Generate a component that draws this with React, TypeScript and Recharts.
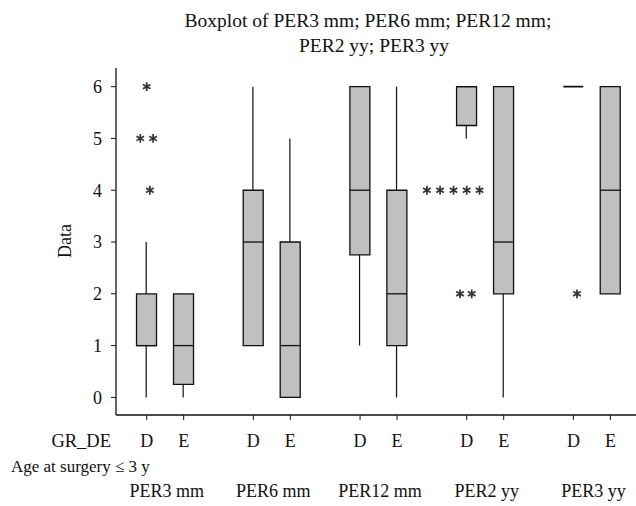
import React from 'react'
import { ComposedChart, Bar, Scatter, XAxis, YAxis } from 'recharts'

const categories = ['PER3 mm', 'PER6 mm', 'PER12 mm', 'PER2 yy', 'PER3 yy']
const groupLevels = ['D', 'E']
const xPositions = [1, 2.04, 4, 5.04, 7, 8.04, 10, 11.04, 13, 14.04]
const q1 = [1, 0.25, 1, 0, 2.75, 1, 5.25, 2, 6, 2]
const medians = [1, 1, 3, 1, 4, 2, 6, 3, 6, 4]
const q3 = [2, 2, 4, 3, 6, 4, 6, 6, 6, 6]
const whiskerLow = [0, 0, 1, 0, 1, 0, 5, 0, 6, 2]
const whiskerHigh = [3, 2, 6, 5, 6, 6, 6, 6, 6, 6]
const yTicks = [0, 1, 2, 3, 4, 5, 6]
const outlierX = [1, 0.82, 1.18, 1.09, 8.88, 9.25, 9.63, 10, 10.36, 9.81, 10.14, 13.1]
const outlierY = [6, 5, 5, 4, 4, 4, 4, 4, 4, 2, 2, 2]

const FONT = "'Liberation Serif', 'Times New Roman', serif"
const X_DOMAIN: [number, number] = [0.137, 15.013]
const Y_DOMAIN: [number, number] = [-0.34, 6.36]
const BOX_W = 20

const boxData = xPositions.map((x, i) => ({
  x,
  box: [q1[i], q3[i]],
  whisker: [whiskerLow[i], whiskerHigh[i]],
  q1: q1[i],
  q3: q3[i],
  median: medians[i],
}))

const outliers = outlierX.map((x, i) => ({ x, y: outlierY[i] }))

// box drawn around the centre recharts gives us; median interpolated inside the q1..q3 span
const BoxShape = (props: any) => {
  const { x, y, width, height, payload } = props
  if (x == null || y == null) return null
  const cx = x + width / 2
  const left = cx - BOX_W / 2
  const span = payload.q3 - payload.q1
  const my = span > 0 ? y + (height * (payload.q3 - payload.median)) / span : y
  return (
    <g>
      <path
        d={`M${left},${y}h${BOX_W}v${height}h${-BOX_W}Z`}
        fill="#c0c0c0"
        stroke="#111"
        strokeWidth={span > 0 ? 1.3 : 1.8}
      />
      {span > 0 && (
        <line x1={left} x2={left + BOX_W} y1={my} y2={my} stroke="#111" strokeWidth={1.3} />
      )}
    </g>
  )
}

const WhiskerShape = (props: any) => {
  const { x, y, width, height } = props
  if (x == null || y == null) return null
  const cx = x + width / 2
  return <line x1={cx} x2={cx} y1={y} y2={y + height} stroke="#111" strokeWidth={1.2} />
}

const Asterisk = (props: any) => {
  const { cx, cy } = props
  const r = 4.4
  const dx = r * Math.cos(Math.PI / 6)
  const dy = r * Math.sin(Math.PI / 6)
  return (
    <path
      d={`M${cx},${cy - r}L${cx},${cy + r}M${cx - dx},${cy - dy}L${cx + dx},${cy + dy}M${cx - dx},${cy + dy}L${cx + dx},${cy - dy}`}
      stroke="#333"
      strokeWidth={1.7}
      fill="none"
    />
  )
}

const GroupTick = (props: any) => {
  const { x, y, payload } = props
  const i = xPositions.findIndex(p => Math.abs(p - payload.value) < 1e-6)
  if (i < 0) return null
  return (
    <g fontFamily={FONT} fontSize={18} fill="#111">
      <text x={x} y={y + 27} textAnchor="middle">{groupLevels[i % 2]}</text>
      {i % 2 === 0 && (
        <text x={x + 20} y={y + 77} textAnchor="middle">{categories[i / 2]}</text>
      )}
    </g>
  )
}

export default function App() {
  return (
    <div style={{ position: 'absolute', left: 0, top: 0, width: 636, height: 506, overflow: 'hidden', background: '#fff' }}>
      <ComposedChart
        width={680}
        height={506}
        data={boxData}
        margin={{ top: 68, right: 35, bottom: 0, left: 66 }}
      >
        <XAxis
          xAxisId="main"
          dataKey="x"
          type="number"
          domain={X_DOMAIN}
          allowDataOverflow
          ticks={xPositions}
          interval={0}
          height={91}
          tickSize={5}
          tickMargin={0}
          tick={<GroupTick />}
          axisLine={{ stroke: '#111', strokeWidth: 1.3 }}
          tickLine={{ stroke: '#111' }}
        />
        <XAxis
          xAxisId="w"
          dataKey="x"
          type="number"
          orientation="top"
          domain={X_DOMAIN}
          allowDataOverflow
          ticks={xPositions}
          height={0}
          tick={false}
          tickLine={false}
          axisLine={{ stroke: '#111', strokeWidth: 1.3 }}
        />
        <YAxis
          type="number"
          domain={Y_DOMAIN}
          allowDataOverflow
          ticks={yTicks}
          interval={0}
          width={50}
          tickSize={5}
          tickMargin={9}
          tick={{ fill: '#111', fontSize: 18, fontFamily: FONT }}
          axisLine={{ stroke: '#111', strokeWidth: 1.3 }}
          tickLine={{ stroke: '#111' }}
        />
        <Bar xAxisId="w" dataKey="whisker" barSize={20} shape={<WhiskerShape />} isAnimationActive={false} />
        <Bar xAxisId="main" dataKey="box" barSize={20} shape={<BoxShape />} isAnimationActive={false} />
        <Scatter xAxisId="main" data={outliers} dataKey="y" shape={<Asterisk />} isAnimationActive={false} />
      </ComposedChart>
      <svg
        width={636}
        height={506}
        style={{ position: 'absolute', left: 0, top: 0, pointerEvents: 'none' }}
        fontFamily={FONT}
        fill="#111"
      >
        <text x={368} y={27} textAnchor="middle" fontSize={19.5}>Boxplot of PER3 mm; PER6 mm; PER12 mm;</text>
        <text x={374} y={52} textAnchor="middle" fontSize={19.5}>PER2 yy; PER3 yy</text>
        <text transform="translate(71,241) rotate(-90)" textAnchor="middle" fontSize={18}>Data</text>
        <text x={111} y={447} textAnchor="end" fontSize={18.5}>GR_DE</text>
        <text x={11} y={472} fontSize={17}>Age at surgery ≤ 3 y</text>
      </svg>
    </div>
  )
}
